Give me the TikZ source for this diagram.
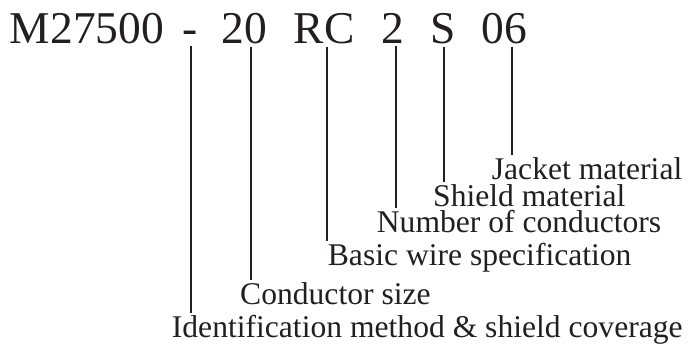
\documentclass[tikz,border=0pt]{standalone}
\usepackage{fontspec}
\setmainfont{Liberation Serif}
\usepackage{tikz}
\usetikzlibrary{positioning, calc}
\definecolor{inkblack}{RGB}{35, 31, 32}

\begin{document}
\begin{tikzpicture}[x=1pt, y=-1pt,
    part/.style={inner xsep=0pt, inner ysep=3pt, anchor=base, text=inkblack, font=\fontsize{45.5}{50}\selectfont},
    lab/.style={inner sep=0pt, anchor=base west, text=inkblack, font=\fontsize{31.6}{36}\selectfont},
    lead/.style={draw=inkblack, line width=2pt, shorten >=2pt}]
  \useasboundingbox (0,0) rectangle (688,348);

  % Part number
  \node[part] (base)  at (87, 43)    {M27500};
  \node[part] (dash)  at (190.5, 43) {-};
  \node[part] (size)  at (244.5, 43) {20};
  \node[part] (spec)  at (324, 43)   {RC};
  \node[part] (count) at (393, 43)   {2};
  \node[part] (shld)  at (443.5, 43) {S};
  \node[part] (jack)  at (504, 43)   {06};

  % Labels
  \node[lab] (jacklab)  at (491.7, 179)   {Jacket material};
  \node[lab] (shldlab)  at (433, 206)     {Shield material};
  \node[lab] (countlab) at (376.7, 232.7) {Number of conductors};
  \node[lab] (speclab)  at (327.7, 265)   {Basic wire specification};
  \node[lab] (sizelab)  at (240, 304)     {Conductor size};
  \node[lab] (dashlab)  at (171.7, 337)   {Identification method \& shield coverage};

  % Leaders
  \draw[lead] (dash.south) -- (dash.south |- dashlab.north);
  \draw[lead] ([xshift=6pt]size.south) -- ([xshift=6pt]size.south |- sizelab.north);
  \draw[lead] ([xshift=2.5pt]spec.south) -- ([xshift=2.5pt]spec.south |- speclab.north);
  \draw[lead] ([xshift=2.7pt]count.south) -- ([xshift=2.7pt]count.south |- countlab.north);
  \draw[lead] ([xshift=0.5pt]shld.south) -- ([xshift=0.5pt]shld.south |- shldlab.north);
  \draw[lead] ([xshift=8.3pt]jack.south) -- ([xshift=8.3pt]jack.south |- jacklab.north);
\end{tikzpicture}
\end{document}
